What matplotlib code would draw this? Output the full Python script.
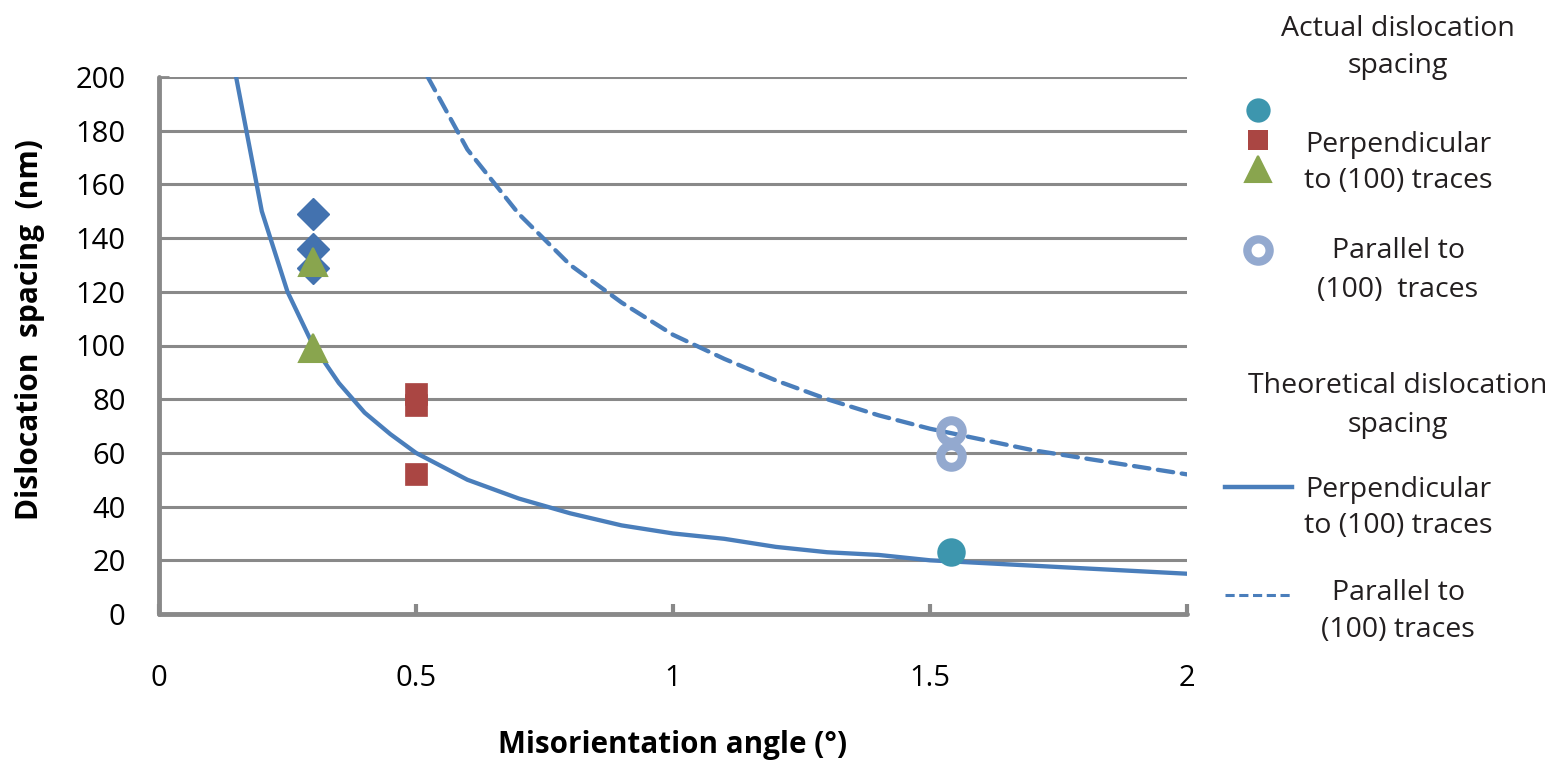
import matplotlib
matplotlib.use("Agg")
import matplotlib.pyplot as plt
from matplotlib.lines import Line2D

plt.rcParams['font.family'] = ['Open Sans', 'DejaVu Sans']

# theoretical spacing curves
theo_x = [0.15, 0.2, 0.25, 0.3, 0.35, 0.4, 0.45, 0.5, 0.6, 0.7, 0.8, 0.9, 1.0,
          1.1, 1.2, 1.3, 1.4, 1.5, 1.6, 1.7, 1.8, 1.9, 2.0]
theo_perp = [200, 150, 120, 100, 86, 75, 67, 60, 50, 43, 37.5, 33, 30,
             28, 25, 23, 22, 20, 19, 18, 17, 16, 15]
theo_par_x = [0.5, 0.6, 0.7, 0.8, 0.9, 1.0, 1.1, 1.2, 1.3, 1.4, 1.5, 1.6, 1.7, 1.8, 1.9, 2.0]
theo_par = [208, 173, 149, 130, 116, 104, 95, 87, 80, 74, 69, 65, 61, 58, 55, 52]

# measured spacing
diamond_x = [0.3, 0.3, 0.3]
diamond_y = [149, 136, 129]
triangle_x = [0.3, 0.3]
triangle_y = [131, 99]
square_x = [0.5, 0.5, 0.5]
square_y = [82, 78, 52]
circle_x = [1.54]
circle_y = [23]
ring_x = [1.54, 1.54]
ring_y = [68, 59]

line_blue = '#4A7EBB'
grey = '#898989'

fig = plt.figure(figsize=(15.59, 7.76), dpi=100)
ax = fig.add_axes([159/1559, 1 - 614/776, 1028/1559, 537/776])

ax.plot(theo_x, theo_perp, color=line_blue, lw=3.1, solid_capstyle='round', zorder=3)
ax.plot(theo_par_x, theo_par, color=line_blue, lw=3.1, dashes=(3.6, 2.0),
        dash_capstyle='round', zorder=3)

ax.plot(diamond_x, diamond_y, 'D', color='#4372AF', ms=16.5, mew=1, mec='#4372AF',
        ls='none', zorder=4)
ax.plot(triangle_x, triangle_y, '^', color='#89A54E', ms=20, mew=1.5, mec='#89A54E',
        ls='none', zorder=5)
ax.plot(square_x, square_y, 's', color='#AA4643', ms=15.5, mew=0.5, mec='#AA4643',
        ls='none', zorder=4)
ax.plot(circle_x, circle_y, 'o', color='#3D96AE', ms=20.5, mew=0, ls='none', zorder=4)
ax.plot(ring_x, ring_y, 'o', mfc='none', mec='#93A9CF', ms=15.5, mew=6.5, ls='none', zorder=4)

ax.set_xlim(0, 2)
ax.set_ylim(0, 200)
ax.set_xticks([0, 0.5, 1, 1.5, 2])
ax.set_xticklabels(['0', '0.5', '1', '1.5', '2'])
ax.set_yticks(range(0, 201, 20))
ax.yaxis.grid(True, color=grey, lw=2.2)
ax.set_axisbelow(True)

for s in ['top', 'right']:
    ax.spines[s].set_visible(False)
for s in ['left', 'bottom']:
    ax.spines[s].set_color(grey)
    ax.spines[s].set_linewidth(3.5)
    ax.spines[s].set_capstyle('round')

ax.tick_params(axis='x', direction='in', length=7, width=3, color=grey,
               labelsize=21, pad=36)
ax.tick_params(axis='y', direction='in', length=7, width=2, color=grey,
               labelsize=21, pad=24)

ax.set_xlabel('Misorientation angle (°)', fontsize=21.3, fontweight='bold')
ax.xaxis.set_label_coords(0.5, (614 - 745) / 537)
ax.xaxis.label.set_va('center')
ax.set_ylabel('Dislocation  spacing  (nm)', fontsize=21.5, fontweight='bold')
ax.yaxis.set_label_coords((30 - 159) / 1028, (614 - 330) / 537)
ax.yaxis.label.set_va('center')


# legend drawn by hand on the right
def ftext(s, py):
    fig.text(1398 / 1559, 1 - py / 776, s, ha='center', va='baseline', fontsize=20.5,
             color='#231F20')


def fmark(py, **kw):
    fig.add_artist(Line2D([1258 / 1559], [1 - py / 776], transform=fig.transFigure,
                          ls='none', **kw))


ftext('Actual dislocation', 36)
ftext('spacing', 73)
ftext('Perpendicular', 152)
ftext('to (100) traces', 188)
ftext('Parallel to', 258)
ftext('(100)  traces', 297)
ftext('Theoretical dislocation', 393)
ftext('spacing', 432)
ftext('Perpendicular', 497)
ftext('to (100) traces', 533)
ftext('Parallel to', 600)
ftext('(100) traces', 637)

fmark(110, marker='o', color='#3D96AE', ms=17.5, mew=0)
fmark(140, marker='s', color='#AA4643', ms=15, mew=0)
fmark(169, marker='^', color='#89A54E', ms=19, mew=1.5, mec='#89A54E')
fmark(250, marker='o', mfc='none', mec='#93A9CF', ms=16, mew=6)

fig.add_artist(Line2D([1225 / 1559, 1292 / 1559], [1 - 487 / 776] * 2,
                      transform=fig.transFigure, color=line_blue, lw=3.2))
fig.add_artist(Line2D([1225 / 1559, 1292 / 1559], [1 - 595 / 776] * 2,
                      transform=fig.transFigure, color=line_blue, lw=2.2,
                      dashes=(3, 1.5)))

fig.savefig('out.png', dpi=100)
